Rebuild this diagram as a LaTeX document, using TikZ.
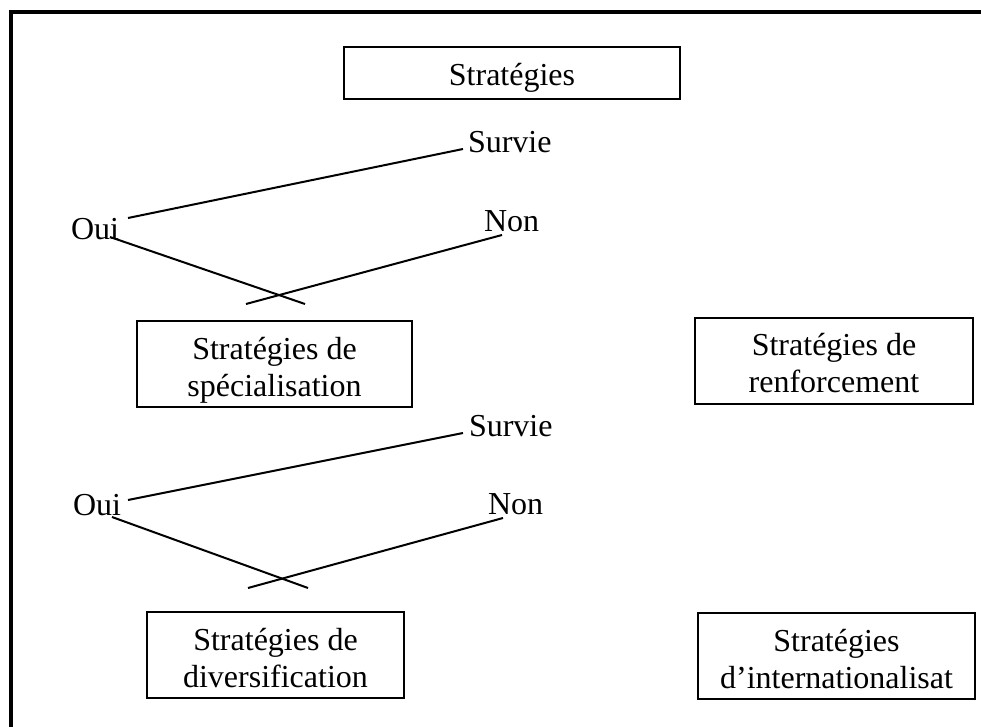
\documentclass[tikz,border=0pt]{standalone}
\usepackage{fontspec}
\setmainfont{Liberation Serif}
\begin{document}
\begin{tikzpicture}[-,x=0.5pt,y=-0.5pt,line width=1pt,font=\fontsize{16}{18.5}\selectfont]
    \tikzstyle{box}=[draw=black, rectangle, inner sep=0pt, minimum height=43pt, align=center, text=black, text height=32pt, text depth=0pt]
    \tikzstyle{lbl}=[inner sep=0pt, anchor=base west, text=black]
    \useasboundingbox (0,0) rectangle (981,727);
    \draw[line width=2.4pt] (11,727) -- (11,12) -- (981,12);

    \node[box,minimum width=168pt,minimum height=26pt,text height=13pt,text depth=0pt] (strat) at (512,73) {Stratégies};
    \node[box,minimum width=137.5pt] (spec) at (274.5,364.5) {Stratégies de\\spécialisation};
    \node[box,minimum width=139pt]   (renf) at (834,361)     {Stratégies de\\renforcement};
    \node[box,minimum width=128.5pt] (div)  at (275.5,655)   {Stratégies de\\diversification};
    \node[box,minimum width=138.5pt] (intl) at (836.5,656)   {Stratégies\\d’internationalisat};

    \node[lbl] (oui1) at (70,240)  {Oui};
    \node[lbl] (sur1) at (467,153) {Survie};
    \node[lbl] (non1) at (483,232) {Non};
    \node[lbl] (oui2) at (72,516)  {Oui};
    \node[lbl] (sur2) at (468,437) {Survie};
    \node[lbl] (non2) at (487,515) {Non};

    \coordinate (a1) at (128,218);
    \coordinate (b1) at (463,149);
    \coordinate (c1) at (110,237);
    \coordinate (d1) at (305,304);
    \coordinate (e1) at (246,304);
    \coordinate (f1) at (502,235);
    \coordinate (a2) at (128,500);
    \coordinate (b2) at (463,433);
    \coordinate (c2) at (112,517);
    \coordinate (d2) at (308,588);
    \coordinate (e2) at (248,588);
    \coordinate (f2) at (503,518);
    \path
     (a1) edge (b1)
     (c1) edge (d1)
     (e1) edge (f1)
     (a2) edge (b2)
     (c2) edge (d2)
     (e2) edge (f2)
     ;
\end{tikzpicture}
\end{document}
